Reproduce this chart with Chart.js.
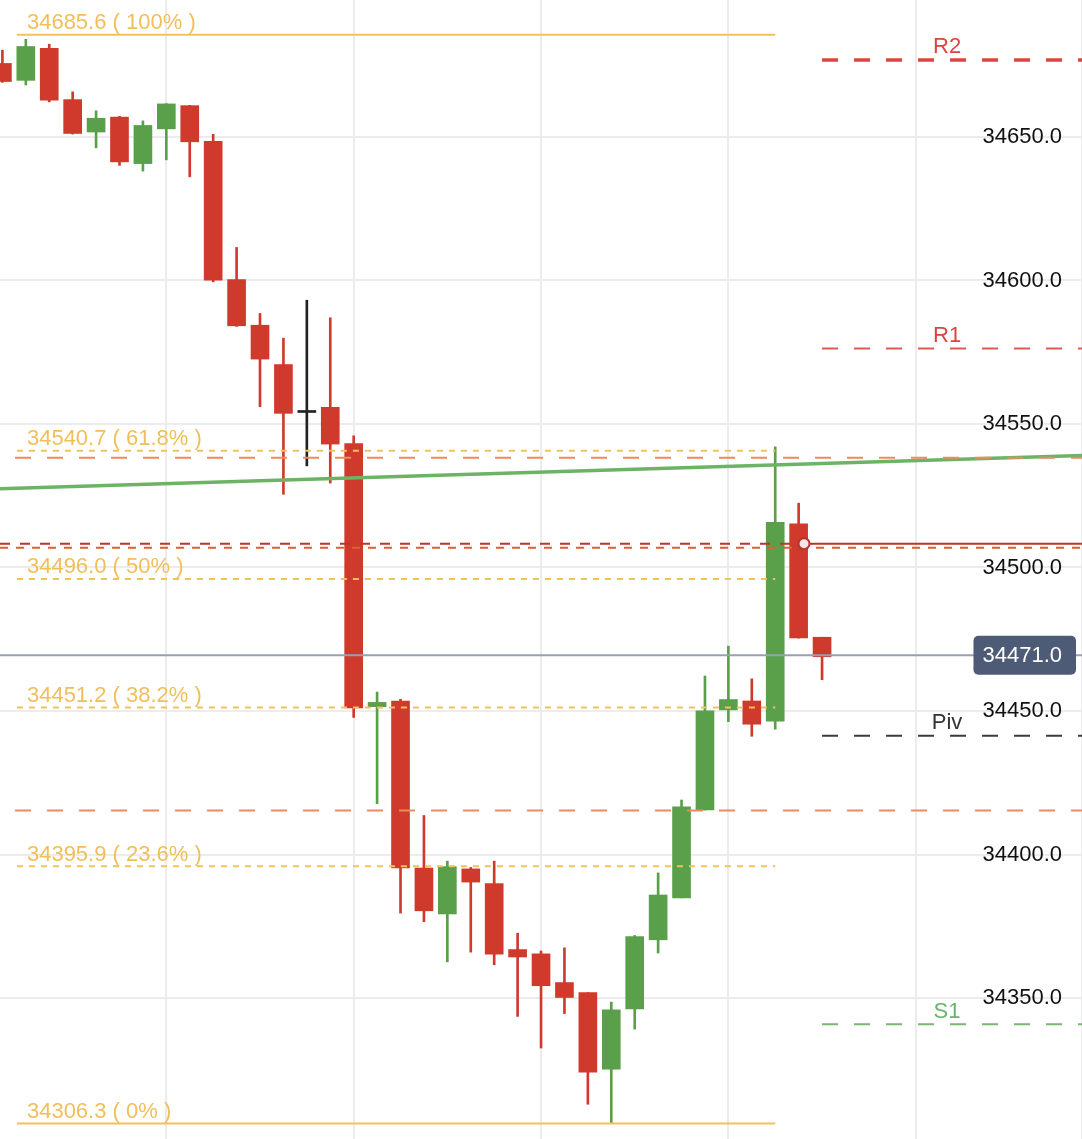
<!DOCTYPE html>
<html>
<head>
<meta charset="utf-8">
<script src="https://cdn.jsdelivr.net/npm/chart.js@4.4.1/dist/chart.umd.min.js"></script>
<style>
    html, body { margin: 0; padding: 0; background: #fff; }
    #caja { width: 1082px; height: 1139px; position: relative; }
</style>
</head>
<body>
<div id="caja"><canvas id="velas"></canvas></div>
<script>
//Velas (OHLC)
const velas = [1, 2, 3, 4, 5, 6, 7, 8, 9, 10, 11, 12, 13, 14, 15, 16, 17, 18, 19, 20, 21, 22, 23, 24, 25, 26, 27, 28, 29, 30, 31, 32, 33, 34, 35, 36];
const aperturas = [34675.6, 34669.7, 34680.9, 34663.0, 34651.7, 34656.9, 34640.7, 34652.8, 34660.9, 34648.5, 34600.3, 34584.4, 34570.7, 34554.0, 34555.8, 34543.2, 34451.5, 34453.5, 34395.3, 34379.3, 34395.0, 34389.9, 34366.9, 34365.4, 34355.4, 34351.9, 34325.2, 34346.2, 34370.3, 34384.9, 34415.5, 34450.4, 34453.5, 34446.5, 34515.2, 34475.7];
const maximos = [34680.2, 34684.0, 34682.3, 34665.7, 34659.1, 34657.2, 34655.6, 34661.6, 34661.0, 34650.9, 34611.5, 34588.5, 34579.9, 34593.1, 34587.0, 34545.9, 34456.6, 34454.1, 34413.6, 34397.7, 34395.5, 34397.7, 34372.6, 34366.4, 34367.5, 34351.9, 34348.6, 34371.8, 34393.6, 34419.0, 34462.2, 34472.6, 34461.2, 34542.0, 34522.4, 34475.7];
const minimos = [34669.0, 34668.1, 34662.2, 34651.0, 34646.2, 34640.1, 34638.1, 34642.0, 34636.1, 34599.5, 34584.0, 34556.0, 34525.5, 34535.4, 34529.4, 34447.8, 34417.7, 34379.6, 34376.6, 34362.6, 34366.0, 34361.6, 34343.6, 34332.6, 34344.6, 34313.0, 34306.3, 34339.2, 34365.7, 34384.9, 34415.5, 34446.3, 34441.2, 34443.7, 34475.4, 34460.9];
const cierres = [34669.3, 34681.5, 34662.8, 34651.2, 34656.5, 34641.3, 34654.0, 34661.5, 34648.3, 34600.1, 34584.2, 34572.6, 34553.7, 34554.0, 34543.0, 34451.1, 34453.0, 34395.3, 34380.4, 34395.8, 34390.4, 34365.3, 34364.3, 34354.3, 34350.2, 34324.2, 34345.9, 34371.4, 34385.9, 34416.6, 34450.1, 34454.0, 34445.4, 34515.7, 34475.5, 34468.9];

//Niveles de Fibonacci
const fibValores = [34685.6, 34540.7, 34496.0, 34451.2, 34395.9, 34306.3];
const fibTextos = ["100%", "61.8%", "50%", "38.2%", "23.6%", "0%"];
const fibDesde = 1.62;
const fibHasta = 34;

//Pivotes
const pivNombres = ["R2", "R1", "Piv", "S1"];
const pivValores = [34676.8, 34576.3, 34441.4, 34340.9];
const pivDesde = 36;

//Otras líneas
const naranjos = [34538.2, 34415.3];
const ordenValor = 34508.3;
const ordenMarca = 35.23;
const stopValor = 34506.9;
const tendencia = [34527.4, 34539.0];
const precioLinea = 34469.4;
const precioTexto = "34471.0";

//Ejes
const xMin = 0.8975;
const xMax = 47.1;
const yMin = 34300.9;
const yMax = 34697.7;

const ROJO = "#cf3a2d";
const VERDE = "#5aa04a";
const NEGRO = "#222222";
const FUENTE = '"Liberation Sans", Arial, sans-serif';

let colores = [];
let cuerpos = [];
let mechas = [];
velas.forEach((x, i) => {
    let c = cierres[i] > aperturas[i] ? VERDE : cierres[i] < aperturas[i] ? ROJO : NEGRO;
    colores.push(c);
    cuerpos.push({ x: x, y: [aperturas[i], cierres[i]] });
    mechas.push({ x: x, y: [minimos[i], maximos[i]] });
});

function linea(x0, x1, y0, y1, color, ancho, guion) {
    return {
        type: "line",
        data: [{ x: x0, y: y0 }, { x: x1, y: y1 }],
        borderColor: color,
        borderWidth: ancho,
        borderDash: guion || [],
        pointRadius: 0,
        pointHoverRadius: 0,
        fill: false,
        order: 0,
    };
}

let lineas = [];
fibValores.forEach((v, i) => {
    let solida = i === 0 || i === fibValores.length - 1;
    lineas.push(linea(fibDesde, fibHasta, v, v, "#f2c15c", 2, solida ? [] : [6, 6]));
});
lineas.push(linea(1.54, xMax, naranjos[0], naranjos[0], "#ec8b5e", 2, [16, 16]));
lineas.push(linea(1.54, xMax, naranjos[1], naranjos[1], "#ec8b5e", 2, [16, 16]));
lineas.push(linea(xMin, xMax, stopValor, stopValor, "#e0602d", 2, [8, 8]));
lineas.push(linea(xMin, ordenMarca, ordenValor, ordenValor, "#b8362b", 2, [10, 10]));
lineas.push(linea(ordenMarca, xMax, ordenValor, ordenValor, "#b8362b", 2));
lineas.push(linea(xMin, xMax, precioLinea, precioLinea, "#97a1b3", 2));
lineas.push(linea(pivDesde, xMax, pivValores[0], pivValores[0], "#d9463f", 3.5, [16, 16]));
lineas.push(linea(pivDesde, xMax, pivValores[1], pivValores[1], "#e05a52", 2, [16, 16]));
lineas.push(linea(pivDesde, xMax, pivValores[2], pivValores[2], "#3a3a3a", 2, [16, 16]));
lineas.push(linea(pivDesde, xMax, pivValores[3], pivValores[3], "#74b96d", 2, [16, 16]));
lineas.push(linea(xMin, xMax, tendencia[0], tendencia[1], "#6db365", 3.5));

//Textos sobre el gráfico
const textos = {
    id: "textos",
    afterDatasetsDraw(chart) {
        const { ctx, scales, chartArea } = chart;
        const px = (v) => scales.x.getPixelForValue(v);
        const py = (v) => scales.y.getPixelForValue(v);
        ctx.save();
        ctx.font = "22px " + FUENTE;
        ctx.textBaseline = "alphabetic";
        ctx.textAlign = "left";
        ctx.fillStyle = "#f0bf5a";
        fibValores.forEach((v, i) => {
            ctx.fillText(v.toFixed(1) + " ( " + fibTextos[i] + " )", px(fibDesde) + 10, py(v) - 5.5);
        });
        const pivColores = ["#d9463f", "#d9463f", "#333333", "#6ab46a"];
        ctx.textAlign = "center";
        pivNombres.forEach((n, i) => {
            ctx.fillStyle = pivColores[i];
            ctx.fillText(n, px(pivDesde) + 125, py(pivValores[i]) - 6.5);
        });
        //etiqueta del precio
        const derecha = chartArea.right - 20;
        const ancho = ctx.measureText(precioTexto).width;
        const y = py(precioLinea);
        ctx.fillStyle = "#4d5b77";
        ctx.beginPath();
        ctx.roundRect(derecha - ancho - 9, y - 19.5, ancho + 23, 39, 5);
        ctx.fill();
        ctx.fillStyle = "#ffffff";
        ctx.textAlign = "right";
        ctx.textBaseline = "middle";
        ctx.fillText(precioTexto, derecha, y + 1);
        ctx.restore();
    },
};

new Chart(document.getElementById("velas"), {
    type: "bar",
    data: {
        datasets: [
            {
                label: "mechas",
                data: mechas,
                backgroundColor: colores,
                barThickness: 2,
                grouped: false,
                order: 3,
            },
            {
                label: "cuerpos",
                data: cuerpos,
                backgroundColor: colores,
                barThickness: 18,
                minBarLength: 2,
                grouped: false,
                order: 2,
            },
            ...lineas,
            {
                type: "line",
                data: [{ x: ordenMarca, y: ordenValor }],
                showLine: false,
                pointRadius: 5.5,
                pointHoverRadius: 5.5,
                pointBackgroundColor: "#f8e6e6",
                pointBorderColor: "#b3352b",
                pointBorderWidth: 2,
                order: -1,
            },
        ],
    },
    options: {
        responsive: true,
        maintainAspectRatio: false,
        animation: false,
        layout: { padding: 0, autoPadding: false },
        plugins: {
            legend: { display: false },
            tooltip: { enabled: false },
        },
        scales: {
            x: {
                type: "linear",
                offset: false,
                min: xMin,
                max: xMax,
                grid: { color: "#ececec", lineWidth: 2, drawTicks: false, offset: false },
                border: { display: false },
                ticks: { display: false, stepSize: 8, includeBounds: false },
            },
            y: {
                position: "right",
                min: yMin,
                max: yMax,
                grid: { color: "#ececec", lineWidth: 2, drawTicks: false },
                border: { display: true, color: "#ececec", width: 2 },
                ticks: {
                    stepSize: 50,
                    includeBounds: false,
                    mirror: true,
                    padding: -20,
                    color: "#111111",
                    font: { size: 22, family: FUENTE },
                    callback: function (v) {
                        return v.toFixed(1);
                    },
                },
                afterFit: function (escala) {
                    escala.paddingTop = 0;
                    escala.paddingBottom = 0;
                },
            },
        },
    },
    plugins: [textos],
});
</script>
</body>
</html>
